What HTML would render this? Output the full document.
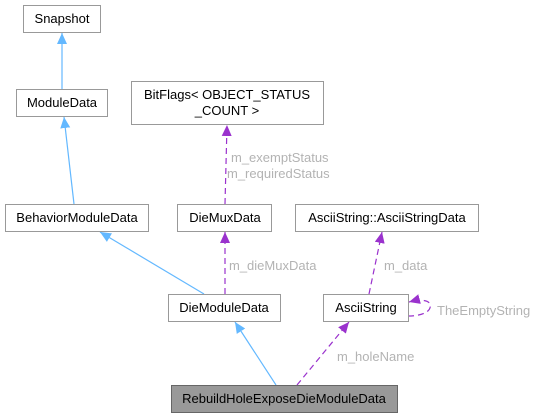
<!DOCTYPE html>
<html><head><meta charset="utf-8"><style>
html,body{margin:0;padding:0;background:#fff;width:534px;height:417px;overflow:hidden}
text{font-family:"Liberation Sans",sans-serif;font-size:13px}
</style></head><body>
<svg width="534" height="417" viewBox="0 0 534 417" xmlns="http://www.w3.org/2000/svg">
<defs>
<marker id="b" markerWidth="12" markerHeight="12" refX="11" refY="6" orient="auto" markerUnits="userSpaceOnUse"><path d="M0,1 L11,6 L0,11 Z" fill="#63b8ff"/></marker>
<marker id="p" markerWidth="12" markerHeight="12" refX="11" refY="6" orient="auto" markerUnits="userSpaceOnUse"><path d="M0,1 L11,6 L0,11 Z" fill="#9a32cd"/></marker>
</defs>
<g fill="none" stroke-width="1.2">
<line x1="62" y1="89" x2="62" y2="33" stroke="#63b8ff" marker-end="url(#b)"/>
<line x1="74" y1="204" x2="64" y2="117" stroke="#63b8ff" marker-end="url(#b)"/>
<line x1="204" y1="294" x2="100" y2="232" stroke="#63b8ff" marker-end="url(#b)"/>
<line x1="276" y1="385" x2="235" y2="322" stroke="#63b8ff" marker-end="url(#b)"/>
<g stroke="#9a32cd" stroke-dasharray="6,4">
<line x1="225" y1="204" x2="227" y2="125" marker-end="url(#p)"/>
<line x1="225" y1="294" x2="225" y2="232" marker-end="url(#p)"/>
<line x1="369" y1="294" x2="382" y2="232" marker-end="url(#p)"/>
<line x1="297" y1="385" x2="349" y2="322" marker-end="url(#p)"/>
<path d="M408,316 C425,316 432,310 430,304 C428,300 420,299 409,302" marker-end="url(#p)"/>
</g>
</g>
<g stroke="#999" stroke-width="1" fill="#fff">
<rect x="23.5" y="5.5" width="77" height="27"/>
<rect x="16.5" y="89.5" width="91" height="27"/>
<rect x="131.5" y="81.5" width="192" height="43"/>
<rect x="5.5" y="204.5" width="143" height="27"/>
<rect x="177.5" y="204.5" width="94" height="27"/>
<rect x="295.5" y="204.5" width="183" height="27"/>
<rect x="168.5" y="294.5" width="112" height="27"/>
<rect x="323.5" y="294.5" width="85" height="27"/>
<rect x="171.5" y="385.5" width="226" height="27" fill="#999" stroke="#666"/>
</g>
<g fill="#000" text-anchor="middle">
<text x="62" y="23">Snapshot</text>
<text x="62" y="107">ModuleData</text>
<text x="227" y="99">BitFlags&lt; OBJECT_STATUS</text>
<text x="227" y="115">_COUNT &gt;</text>
<text x="77" y="222">BehaviorModuleData</text>
<text x="225" y="222">DieMuxData</text>
<text x="387" y="222">AsciiString::AsciiStringData</text>
<text x="224" y="312">DieModuleData</text>
<text x="366" y="312">AsciiString</text>
<text x="284" y="403">RebuildHoleExposeDieModuleData</text>
</g>
<g fill="#b3b3b3">
<text x="231" y="162">m_exemptStatus</text>
<text x="227" y="178">m_requiredStatus</text>
<text x="229" y="270">m_dieMuxData</text>
<text x="384" y="270">m_data</text>
<text x="337" y="361">m_holeName</text>
<text x="437" y="315">TheEmptyString</text>
</g>
</svg>
</body></html>
